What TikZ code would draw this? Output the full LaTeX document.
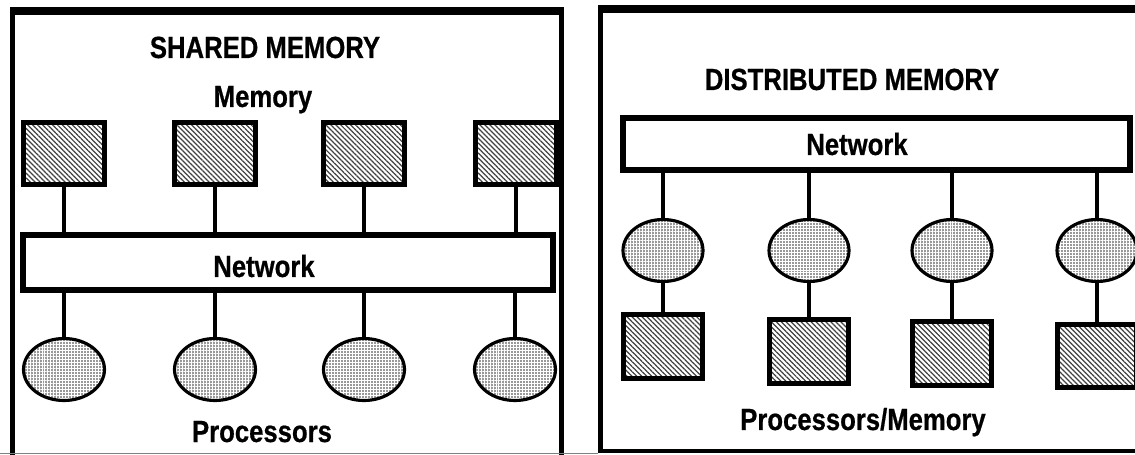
\documentclass[tikz,border=0pt]{standalone}
\usepackage{fontspec}
\newfontfamily\diagfont{Liberation Sans}[FakeStretch=0.84,
  BoldFeatures={FakeBold=0.6}]
\usetikzlibrary{shapes.geometric, patterns.meta}

\begin{document}
\begin{tikzpicture}[x=0.02cm, y=-0.02cm,
  memblock/.style={draw, line width=3.1pt, inner sep=0pt,
    minimum width=1.61cm, minimum height=1.23cm,
    pattern={Lines[angle=-45, distance=2pt, line width=0.7pt]},
    pattern color=black!75},
  proc/.style={draw, ellipse, line width=1.8pt, inner sep=0pt,
    minimum width=1.62cm, minimum height=1.24cm,
    preaction={fill=gray!80},
    pattern={Hatch[angle=0, distance=1.7pt, line width=0.35pt]},
    pattern color=white},
  netbox/.style={draw, line width=3.3pt, inner sep=0pt},
  link/.style={line width=2.7pt},
  frame/.style={line width=2.8pt},
  caption/.style={font=\diagfont\bfseries\fontsize{17.4}{20}\selectfont,
    anchor=base, inner sep=0pt}]
  \useasboundingbox (0,0) rectangle (1135,455);

  % shared memory panel
  \draw[line width=4.5pt] (10,11) -- (564,11);
  \draw[frame] (12.5,11) -- (12.5,455);
  \draw[frame] (561.5,11) -- (561.5,455);
  \draw[gray, line width=0.6pt] (0,453.5) -- (598,453.5);

  \node[caption] (shtitle) at (265,58) {SHARED MEMORY};
  \node[caption] (shmem) at (263,107) {Memory};

  \node[memblock] (m1) at (64,153.5) {};
  \node[memblock] (m2) at (215,153.5) {};
  \node[memblock] (m3) at (364,153.5) {};
  \node[memblock] (m4) at (516,153.5) {};

  \node[netbox, minimum width=10.6cm, minimum height=1.1cm] (net)
    at (288,262.5) {};
  \node[caption] (netlabel) at (264,277) {Network};

  \node[proc] (p1) at (64,369.5) {};
  \node[proc] (p2) at (215,369.5) {};
  \node[proc] (p3) at (364,369.5) {};
  \node[proc] (p4) at (515,369.5) {};
  \node[caption] (shproc) at (262,442) {Processors};

  \draw[link] (m1.south) -- (m1.south |- net.north);
  \draw[link] (m2.south) -- (m2.south |- net.north);
  \draw[link] (m3.south) -- (m3.south |- net.north);
  \draw[link] (m4.south) -- (m4.south |- net.north);
  \draw[link] (p1.north |- net.south) -- (p1.north);
  \draw[link] (p2.north |- net.south) -- (p2.north);
  \draw[link] (p3.north |- net.south) -- (p3.north);
  \draw[link] (p4.north |- net.south) -- (p4.north);

  % distributed memory panel
  \draw[line width=4.5pt] (598,9) -- (1135,9);
  \draw[frame] (600.5,9) -- (600.5,452);
  \draw[line width=2.3pt] (598,451) -- (1135,451);

  \node[caption] (dtitle) at (852,90) {DISTRIBUTED MEMORY};

  \node[netbox, minimum width=10.14cm, minimum height=1.04cm] (dnet)
    at (876.5,144) {};
  \node[caption] (dnetlabel) at (857,155) {Network};

  \node[proc, minimum width=1.6cm] (q1) at (663,250.5) {};
  \node[proc, minimum width=1.6cm] (q2) at (809,250.5) {};
  \node[proc, minimum width=1.6cm] (q3) at (952,250.5) {};
  \node[proc, minimum width=1.6cm] (q4) at (1097,250.5) {};

  \node[memblock, minimum width=1.58cm, minimum height=1.27cm] (c1)
    at (663,346.5) {};
  \node[memblock, minimum width=1.58cm, minimum height=1.27cm] (c2)
    at (809,351.5) {};
  \node[memblock, minimum width=1.58cm, minimum height=1.27cm] (c3)
    at (952,353.5) {};
  \node[memblock, minimum width=1.58cm, minimum height=1.27cm] (c4)
    at (1097,356) {};
  \node[caption] (dproc) at (863,430) {Processors/Memory};

  \draw[link] (q1.north |- dnet.south) -- (q1.north);
  \draw[link] (q2.north |- dnet.south) -- (q2.north);
  \draw[link] (q3.north |- dnet.south) -- (q3.north);
  \draw[link] (q4.north |- dnet.south) -- (q4.north);
  \draw[link] (q1.south) -- (c1.north);
  \draw[link] (q2.south) -- (c2.north);
  \draw[link] (q3.south) -- (c3.north);
  \draw[link] (q4.south) -- (c4.north);
\end{tikzpicture}
\end{document}
